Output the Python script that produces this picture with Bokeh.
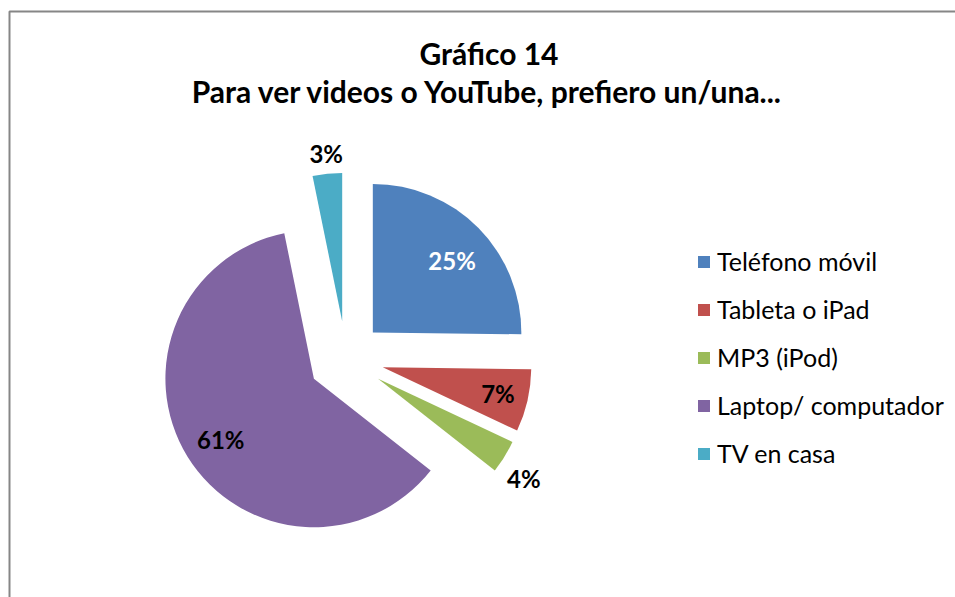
import math
from bokeh.plotting import figure
from bokeh.models import ColumnDataSource, Legend, LegendItem, Range1d
from bokeh.core.properties import value
from bokeh.embed import file_html
from bokeh.resources import INLINE

# ---- data ----
categories = ["Teléfono móvil", "Tableta o iPad", "MP3 (iPod)", "Laptop/ computador", "TV en casa"]
shares = [25.2, 6.8, 3.6, 61.2, 3.2]
colors = ["#4F81BD", "#C0504D", "#9BBB59", "#8064A2", "#4BACC6"]
title_lines = ["Gráfico 14", "Para ver videos o YouTube, prefiero un/una..."]

# ---- style / layout ----
W, H = 955, 597
FONT = "Lato"
CX, CY = 345.5, 238.6      # pie centre (pixel-like units, y up)
R = 148.5
EXPLODE = 37.7
label_r = [0.72, 0.796, 1.188, 0.748, 1.133]
label_nudge = [2.5, 0.0, 2.6, -1.3, 0.3]
label_colors = ["white", "black", "black", "black", "black"]

total = sum(shares)
xs, ys, starts, ends, lx, ly, ltxt = [], [], [], [], [], [], []
acc = 0.0
for i, s in enumerate(shares):
    t1 = acc / total * 360.0
    acc += s
    t2 = acc / total * 360.0
    tm = (t1 + t2) / 2.0
    ox = CX + EXPLODE * math.sin(math.radians(tm))
    oy = CY + EXPLODE * math.cos(math.radians(tm))
    xs.append(ox)
    ys.append(oy)
    starts.append(math.radians(90.0 - t2))
    ends.append(math.radians(90.0 - t1))
    ta = math.radians(tm + label_nudge[i])
    lx.append(ox + label_r[i] * R * math.sin(ta))
    ly.append(oy + label_r[i] * R * math.cos(ta))
    ltxt.append(f"{round(s / total * 100)}%")

src = ColumnDataSource(dict(x=xs, y=ys, start=starts, end=ends, color=colors,
                            category=categories))
lsrc = ColumnDataSource(dict(x=lx, y=ly, text=ltxt, color=label_colors))

p = figure(width=W, height=H, x_range=Range1d(0, W), y_range=Range1d(0, H),
           output_backend="svg", toolbar_location=None, min_border=0)
p.axis.visible = False
p.grid.visible = False
p.outline_line_color = None
p.background_fill_color = "white"

# chart border (top and left visible)
p.line(x=[9, 9, W], y=[0, 586, 586], line_color="#868686", line_width=2)

wr = p.wedge(x="x", y="y", radius=R, start_angle="start", end_angle="end",
             direction="anticlock", fill_color="color", line_color=None, source=src)

p.text(x="x", y="y", text="text", text_color="color", source=lsrc,
       text_font=value(FONT), text_font_style="bold", text_font_size="24px",
       text_align="center", text_baseline="middle")

# title
p.text(x=[488.5, 487.5], y=[H - 52, H - 90], text=title_lines,
       text_font=value(FONT), text_font_style="bold", text_font_size="30px",
       text_align="center", text_baseline="alphabetic", text_color="black")

items = [LegendItem(label=c, renderers=[wr], index=i) for i, c in enumerate(categories)]
legend = Legend(items=items, location=(696, 128), orientation="vertical",
                glyph_width=15, glyph_height=15, label_standoff=6, spacing=16,
                padding=0, margin=0, border_line_color=None, background_fill_alpha=0,
                label_text_font=FONT, label_text_font_size="25px", label_height=32,
                label_text_color="black")
p.add_layout(legend)

open("out.html", "w").write(file_html(p, INLINE))
